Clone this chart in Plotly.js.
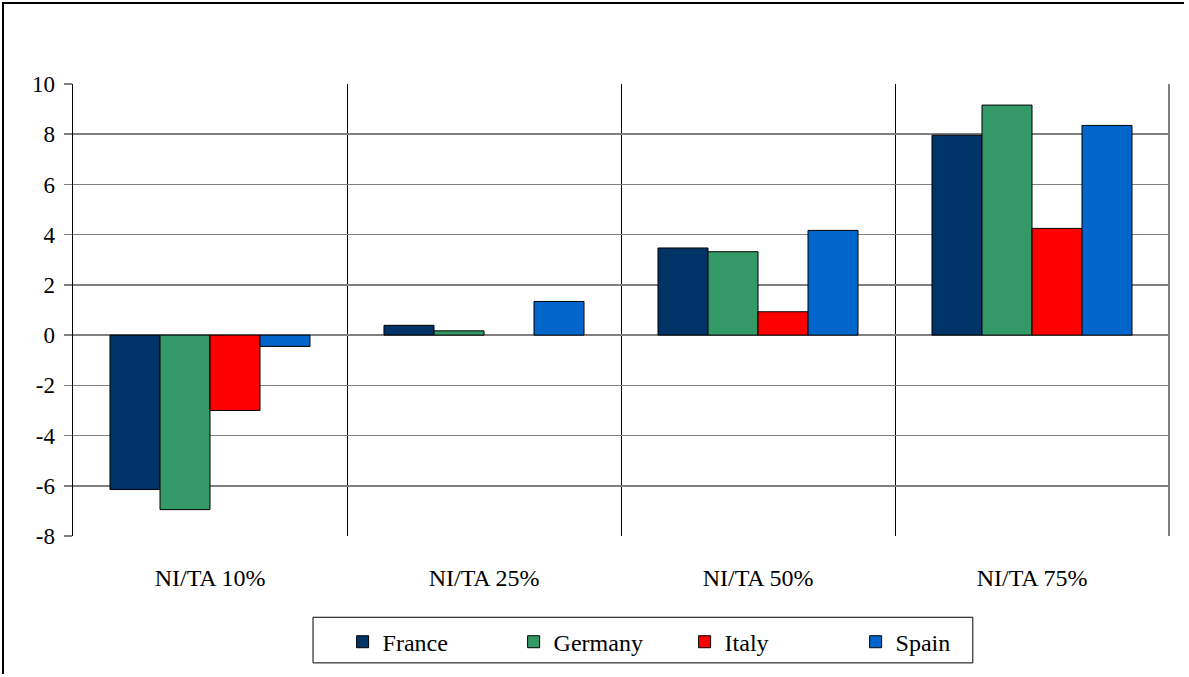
<!DOCTYPE html>
<html>
<head>
<meta charset="utf-8">
<script src="https://cdn.plot.ly/plotly-3.0.1.min.js"></script>
<style>
  body { margin: 0; background: #ffffff; overflow: hidden; }
  #wrap { position: relative; width: 1189px; height: 677px; overflow: hidden; }
  #chart { width: 1189px; height: 677px; }
  #frame {
    position: absolute; left: 2px; top: 2px; width: 1180px; height: 670px;
    border-left: 2px solid #000000; border-top: 2px solid #000000;
    pointer-events: none;
  }
</style>
</head>
<body>
<div id="wrap">
  <div id="chart"></div>
  <div id="frame"></div>
</div>
<script>
const CATEGORIES = ["NI/TA 10%", "NI/TA 25%", "NI/TA 50%", "NI/TA 75%"];
const FRANCE = [-6.15, 0.39, 3.47, 7.96];
const GERMANY = [-6.95, 0.17, 3.32, 9.16];
const ITALY = [-3.0, null, 0.93, 4.25];
const SPAIN = [-0.45, 1.34, 4.17, 8.35];
const Y_TICK_VALUES = [-8, -6, -4, -2, 0, 2, 4, 6, 8, 10];
const Y_TICK_LABELS = ["-8", "-6", "-4", "-2", "0", "2", "4", "6", "8", "10"];

const SERIES = [
  { name: "France", values: FRANCE, color: "#003366" },
  { name: "Germany", values: GERMANY, color: "#339966" },
  { name: "Italy", values: ITALY, color: "#FF0000" },
  { name: "Spain", values: SPAIN, color: "#0066CC" },
];

const FONT = "Liberation Serif, Times New Roman, serif";

const traces = SERIES.map((series) => ({
  type: "bar",
  name: series.name,
  x: CATEGORIES,
  y: series.values,
  marker: { color: series.color, line: { color: "#000000", width: 1 } },
  hoverinfo: "x+y+name",
}));

const layout = {
  width: 1189,
  height: 677,
  paper_bgcolor: "#ffffff",
  plot_bgcolor: "#ffffff",
  font: { family: FONT, size: 23, color: "#000000" },
  margin: { l: 73, r: 20, t: 84, b: 137 },
  barmode: "group",
  bargap: 0.27,
  bargroupgap: 0,
  showlegend: true,
  legend: {
    orientation: "h",
    x: 0.246,
    xanchor: "left",
    y: -0.185,
    yanchor: "top",
    borderwidth: 0,
    bgcolor: "rgba(0,0,0,0)",
    font: { family: FONT, size: 24 },
    entrywidth: 126,
    itemwidth: 30,
  },
  xaxis: {
    type: "category",
    tickson: "boundaries",
    showgrid: true,
    gridcolor: "#000000",
    gridwidth: 1,
    ticks: "",
    showline: false,
    ticklabelstandoff: 25,
    tickfont: { family: FONT, size: 24 },
  },
  yaxis: {
    range: [-8, 10],
    tickmode: "array",
    tickvals: Y_TICK_VALUES,
    ticktext: Y_TICK_LABELS,
    showgrid: true,
    gridcolor: "#808080",
    gridwidth: 1.5,
    zeroline: true,
    zerolinecolor: "#808080",
    zerolinewidth: 1.5,
    showline: true,
    linecolor: "#000000",
    linewidth: 1.5,
    ticks: "outside",
    ticklen: 8,
    tickcolor: "#808080",
    tickwidth: 1.5,
    ticklabelstandoff: 4,
    tickfont: { family: FONT, size: 23 },
  },
  shapes: [
    {
      type: "line",
      xref: "paper",
      yref: "paper",
      x0: 1,
      x1: 1,
      y0: 0,
      y1: 1,
      layer: "above",
      line: { color: "#808080", width: 2 },
    },
    {
      type: "rect",
      xref: "paper",
      yref: "paper",
      x0: 0.219,
      x1: 0.821,
      y0: -0.2807,
      y1: -0.1798,
      layer: "below",
      line: { color: "#000000", width: 1 },
      fillcolor: "rgba(0,0,0,0)",
    },
  ],
};

Plotly.newPlot("chart", traces, layout, { displayModeBar: false, staticPlot: true });
</script>
</body>
</html>
